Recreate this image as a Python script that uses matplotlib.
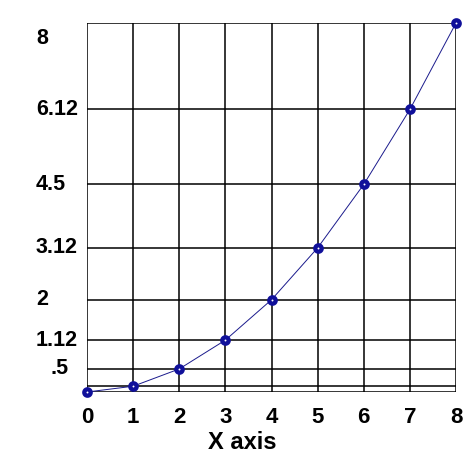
import matplotlib.pyplot as plt
from matplotlib import transforms

# data (y = x^2 / 8)
x_vals = [0, 1, 2, 3, 4, 5, 6, 7, 8]
y_vals = [0, 0.125, 0.5, 1.125, 2, 3.125, 4.5, 6.125, 8]
x_labels = ['0', '1', '2', '3', '4', '5', '6', '7', '8']
y_labels = ['', '', '.5', '1.12', '2', '3.12', '4.5', '6.12', '8']

plt.rcParams['font.family'] = ['Liberation Sans', 'DejaVu Sans']
plt.rcParams['font.weight'] = 'bold'

fig = plt.figure(figsize=(4.66, 4.61), dpi=100)
ax = fig.add_axes([87 / 466, 1 - 392 / 461, 369 / 466, 369 / 461])
ax.set_xlim(0, 8)
ax.set_ylim(0, 8)
for s in ax.spines.values():
    s.set_visible(False)

# grid lines at every data position
for xv in x_vals:
    ax.axvline(xv, color='black', lw=1.1, zorder=1)
for yv in y_vals:
    ax.axhline(yv, color='black', lw=1.1, zorder=1)

ax.plot(x_vals, y_vals, color='#1a1a8c', lw=0.7, zorder=2, clip_on=False)
ax.plot(x_vals, y_vals, ls='none', marker='o', ms=4.6, mew=3.1,
        mfc='white', mec='#10109a', zorder=3, clip_on=False)

ax.set_xticks(x_vals)
ax.set_xticklabels(x_labels, fontsize=16, fontweight='bold')
ax.tick_params(axis='x', length=0, pad=11)
ax.set_yticks([])

# y labels placed as text, left aligned in the margin
ytrans = transforms.blended_transform_factory(fig.transFigure, ax.transData)
for yv, lab in zip(y_vals, y_labels):
    if not lab:
        continue
    xpos = 36 / 466
    if lab == '.5':
        xpos = 50 / 466
    off = 0
    if yv == 8:
        off = -15 / 100
    t = ytrans + transforms.ScaledTranslation(0, off, fig.dpi_scale_trans)
    fig.text(xpos, yv, lab, transform=t, fontsize=15.5, fontweight='bold',
             ha='left', va='center')

fig.text(242 / 466, 1 - 442 / 461, 'X axis', fontsize=17, fontweight='bold',
         ha='center', va='center')

fig.savefig('out.png', dpi=100)
